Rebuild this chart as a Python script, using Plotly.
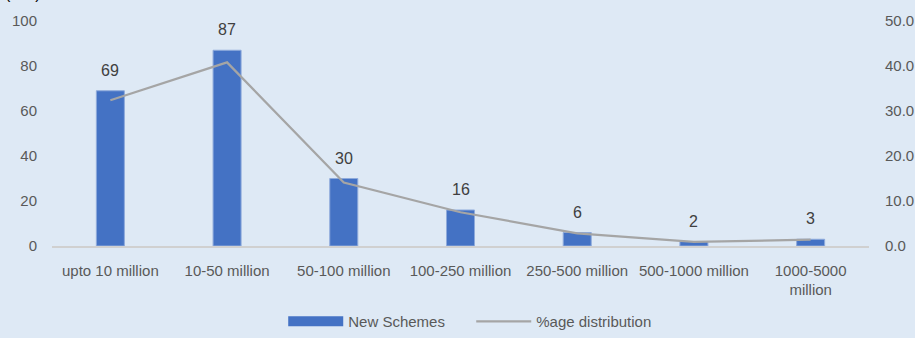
import plotly.graph_objects as go

categories = ["upto 10 million", "10-50 million", "50-100 million", "100-250 million",
              "250-500 million", "500-1000 million", "1000-5000<br>million"]
new_schemes = [69, 87, 30, 16, 6, 2, 3]
pct_distribution = [32.4, 40.8, 14.1, 7.5, 2.8, 0.9, 1.4]
left_ticks = [0, 20, 40, 60, 80, 100]
right_ticks = [0, 10, 20, 30, 40, 50]

FONT = "Liberation Sans Narrow, Arial Narrow, Liberation Sans, Arial"
BG = "#dee9f5"
BAR = "#4472c4"
W, H = 915, 338
PL, PR, PT, PB = 52, 869, 21, 246  # plot area in pixels

fig = go.Figure()
fig.add_trace(go.Bar(
    x=categories, y=new_schemes, name="New Schemes", showlegend=False,
    marker=dict(color=BAR, line=dict(color="#8eaadb", width=1)),
    yaxis="y",
))
# legend swatch for bars (wide rectangle like the reference)
fig.add_trace(go.Scatter(
    x=[categories[0]], y=[None], name="New Schemes", mode="lines",
    line=dict(color=BAR, width=10), yaxis="y", hoverinfo="skip",
))
fig.add_trace(go.Scatter(
    x=categories, y=pct_distribution, name="%age distribution",
    mode="lines", line=dict(color="#a5a5a5", width=2.25),
    yaxis="y2",
))

for c, v in zip(categories, new_schemes):
    fig.add_annotation(x=c, y=v, text=str(v), showarrow=False, yanchor="bottom",
                       yshift=10, font=dict(family=FONT, size=16, color="#404040"))

fig.add_annotation(xref="paper", yref="paper", x=0.003, y=1.0, xanchor="left",
                   yanchor="bottom", yshift=-4, text="(No.)", showarrow=False,
                   font=dict(family=FONT, size=16, color="#000000"))

fig.update_layout(
    width=W, height=H,
    margin=dict(l=0, r=0, t=0, b=0),
    paper_bgcolor=BG, plot_bgcolor=BG,
    bargap=0.76,
    showlegend=True,
    legend=dict(orientation="h", x=0.515, xanchor="center", y=0.0, yanchor="bottom",
                font=dict(family=FONT, size=15, color="#595959"),
                bgcolor="rgba(0,0,0,0)", itemwidth=55, tracegroupgap=0,
                entrywidth=118),
    xaxis=dict(domain=[PL / W, PR / W], showgrid=False, showline=True,
               linecolor="#d0d0d0", linewidth=1.5,
               ticks="", ticklabelstandoff=10, automargin=False,
               tickfont=dict(family=FONT, size=15, color="#595959"),
               tickangle=0),
    yaxis=dict(domain=[1 - PB / H, 1 - PT / H], range=[0, 100], tickvals=left_ticks,
               showgrid=False, zeroline=False,
               showline=False, ticklabelstandoff=14, automargin=False,
               tickfont=dict(family=FONT, size=15, color="#595959")),
    yaxis2=dict(range=[0, 50], tickvals=right_ticks, tickformat=".1f", overlaying="y",
                side="right", showgrid=False, zeroline=False, showline=False,
                ticklabelstandoff=15, automargin=False,
                tickfont=dict(family=FONT, size=15, color="#595959")),
)

fig.write_html("out.html", config={"displayModeBar": False})

with open("out.html", encoding="utf-8") as f:
    html = f.read()
html = html.replace("<head>", "<head><style>html,body{margin:0;padding:0;background:%s;overflow:hidden}</style>" % BG, 1)
with open("out.html", "w", encoding="utf-8") as f:
    f.write(html)
